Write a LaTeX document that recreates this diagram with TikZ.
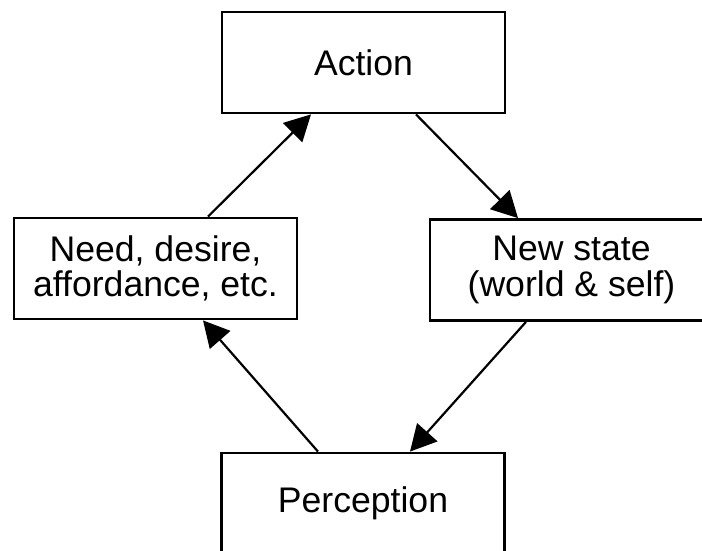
\documentclass[tikz,border=0pt]{standalone}
\usepackage{fontspec}
\setmainfont{Liberation Sans}
\usetikzlibrary{arrows.meta}
\tikzset{
  stagebox/.style={draw,line width=1.4pt,minimum width=141.5pt,
    minimum height=50.5pt,inner sep=0pt,align=center},
  cyclearrow/.style={-{Triangle[length=13pt,width=13.5pt]},line width=1.1pt}
}

\begin{document}
\begin{tikzpicture}[x=0.5pt,y=-0.5pt,font=\fontsize{17.8}{17.6}\selectfont]
    \useasboundingbox (0,0) rectangle (702,551);
    \clip (0,0) rectangle (702,551);
    \node[stagebox] (action) at (363.5,62.5) {Action};
    \node[stagebox] (need) at (155.5,268.5) {Need, desire,\\affordance, etc.};
    \node[stagebox] (state) at (571.5,270) {New state\\(world \& self)};
    \node[stagebox] (perception) at (363,503.5) {Perception};
    % loop round the four stages
    \draw[cyclearrow] ([xshift=26.25pt]need.north) -- ([xshift=-26.25pt]action.south);
    \draw[cyclearrow] ([xshift=26.25pt]action.south) -- ([xshift=-26.75pt]state.north);
    \draw[cyclearrow] ([xshift=-22.75pt]state.south) -- ([xshift=23.5pt]perception.north);
    \draw[cyclearrow] ([xshift=-22.5pt]perception.north) -- ([xshift=23.75pt]need.south);
  \end{tikzpicture}
\end{document}
